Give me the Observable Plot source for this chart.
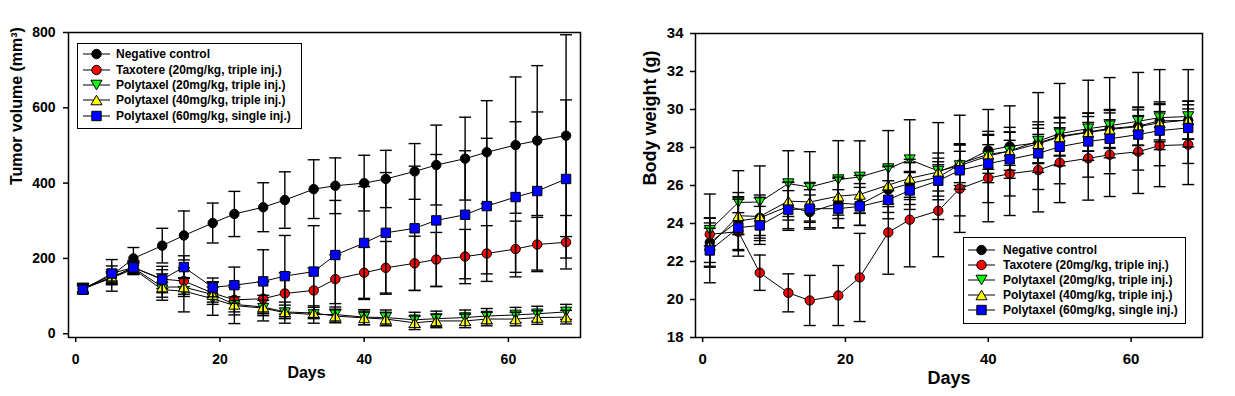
<!DOCTYPE html>
<html><head><meta charset="utf-8">
<script src="https://cdn.jsdelivr.net/npm/d3@7"></script>
<script src="https://cdn.jsdelivr.net/npm/@observablehq/plot@0.6"></script>
<style>
body{margin:0;background:#fff;}
#wrap{position:relative;width:1235px;height:396px;display:flex;background:#fff;overflow:hidden;}
.legend{position:absolute;border:1px solid #000;background:#fff;box-sizing:border-box;font:bold 12px "Liberation Sans",Arial,sans-serif;color:#000;}
.legend .row{position:absolute;height:14px;display:flex;align-items:center;white-space:nowrap;line-height:14px;}
.legend svg{display:block;overflow:visible;}
</style></head><body><div id="wrap"></div>
<script>
// ---------- data ----------
const days = [1,5,8,12,15,19,22,26,29,33,36,40,43,47,50,54,57,61,64,68];
const seriesNames = ["Negative control","Taxotere (20mg/kg, triple inj.)","Polytaxel (20mg/kg, triple inj.)","Polytaxel (40mg/kg, triple inj.)","Polytaxel (60mg/kg, single inj.)"];

// Tumor volume (mm3)
const tvControl    = [120,155,200,234,261,294,318,336,355,384,393,400,411,431,448,465,482,501,513,526];
const tvControlErr = [14,42,29,46,65,53,60,65,75,78,74,74,76,74,106,110,137,181,199,268];
const tvTaxotere    = [118,150,176,145,140,108,90,93,107,115,145,162,175,187,197,205,213,225,237,243];
const tvTaxotereErr = [10,20,18,25,35,30,40,45,55,60,65,68,70,72,72,72,74,74,72,71];
const tvPoly20    = [120,148,172,117,113,93,75,68,56,51,51,44,43,37,40,43,47,50,53,58];
const tvPoly20Err = [10,15,15,20,55,44,48,34,28,23,20,20,20,20,20,20,20,20,20,20];
const tvPoly40    = [121,150,175,124,124,104,78,71,58,55,47,42,39,29,34,34,39,39,43,44];
const tvPoly40Err = [10,15,15,35,25,20,20,18,18,15,18,18,18,18,18,18,18,18,18,18];
const tvPoly60    = [117,160,176,144,177,123,129,139,153,165,209,241,268,280,301,316,339,363,379,411];
const tvPoly60Err = [10,20,15,35,30,25,48,84,108,122,145,150,160,165,175,170,180,200,210,210];

// Body weight (g)
const bwControl    = [23.0,24.13,24.3,24.9,24.6,25.07,25.0,25.78,26.1,26.44,27.1,27.85,28.06,28.25,28.59,28.82,29.0,29.13,29.4,29.43];
const bwControlErr = [1.3,1.5,1.2,1.26,0.9,1.3,1.1,1.2,1.1,1.0,1.1,1.0,1.0,1.1,1.0,1.0,1.0,1.0,1.0,1.0];
const bwTaxotere    = [23.43,23.57,21.41,20.35,19.95,20.21,21.16,23.53,24.2,24.67,25.83,26.39,26.62,26.81,27.2,27.43,27.62,27.78,28.1,28.15];
const bwTaxotereErr = [0.6,1.0,0.93,1.0,1.32,1.58,2.32,2.2,2.48,2.42,2.3,2.3,2.2,2.2,2.1,2.2,2.2,2.2,2.16,2.1];
const bwPoly20    = [23.65,25.11,25.13,26.1,25.92,26.31,26.45,26.89,27.36,26.76,27.05,27.55,27.82,28.34,28.73,28.99,29.15,29.38,29.57,29.63];
const bwPoly20Err = [1.9,1.67,1.9,1.73,1.86,2.05,1.9,2.0,2.1,2.55,2.65,2.45,2.37,2.55,2.64,2.55,2.53,2.57,2.53,2.47];
const bwPoly40    = [22.85,24.41,24.37,25.18,25.13,25.44,25.53,26.02,26.38,26.71,27.15,27.64,27.8,28.2,28.55,28.8,28.95,29.1,29.3,29.45];
const bwPoly40Err = [0.9,1.0,1.0,1.0,1.0,1.0,1.0,1.0,1.0,1.0,1.0,1.0,1.0,1.0,1.0,1.0,1.0,1.0,1.0,1.0];
const bwPoly60    = [22.58,23.78,23.9,24.73,24.78,24.78,24.9,25.25,25.74,26.25,26.8,27.15,27.38,27.69,28.04,28.32,28.46,28.68,28.89,29.03];
const bwPoly60Err = [1.7,1.5,1.0,1.0,1.0,1.0,1.0,1.0,1.0,1.0,1.0,1.0,1.0,1.0,1.0,1.0,1.0,1.0,1.0,1.0];

const xTicks = [0,20,40,60];
const tvTicks = [0,200,400,600,800];
const bwTicks = [18,20,22,24,26,28,30,32,34];

// ---------- styles ----------
const FONT = '"Liberation Sans", Arial, sans-serif';
const colors = ["#000000","#ff0000","#00ff00","#ffff00","#0000ff"];
const triUp = {draw(ctx, size){const s=Math.sqrt(4*size/Math.sqrt(3)), h=s*Math.sqrt(3)/2; ctx.moveTo(0,-h/2); ctx.lineTo(s/2,h/2); ctx.lineTo(-s/2,h/2); ctx.closePath();}};
const triDown = {draw(ctx, size){const s=Math.sqrt(4*size/Math.sqrt(3)), h=s*Math.sqrt(3)/2; ctx.moveTo(0,h/2); ctx.lineTo(s/2,-h/2); ctx.lineTo(-s/2,-h/2); ctx.closePath();}};
const capSym = {draw(ctx){ctx.moveTo(-6,0); ctx.lineTo(6,0);}};
const symbols = ["circle","circle",triDown,triUp,"square"];
const radii = [4.7,4.7,4.1,4.1,5.3];

function tidy(vals, errs, k){ return days.map((d,j)=>({day:d, v:vals[j], e:errs[j], k})); }

function chart(o){
  const sets = o.values.map((v,k)=>tidy(v, o.errors[k], k));
  const bars = s => [
    Plot.ruleX(s,{x:"day", y1:d=>d.v-d.e, y2:d=>d.v+d.e, stroke:"black", strokeWidth:1.4}),
    Plot.dot(s,{x:"day", y:d=>d.v+d.e, symbol:capSym, r:3, fill:"none", stroke:"black", strokeWidth:1.4}),
    Plot.dot(s,{x:"day", y:d=>d.v-d.e, symbol:capSym, r:3, fill:"none", stroke:"black", strokeWidth:1.4})
  ];
  const dots = (s,k) => Plot.dot(s,{x:"day", y:"v", symbol:symbols[k], r:radii[k], fill:colors[k], stroke:"black", strokeWidth:1});
  const marks = [
    Plot.frame({stroke:"black", strokeWidth:1.5}),
    Plot.axisX({ticks:xTicks, tickSize:5, tickPadding:o.xPad, fontSize:o.tickFont, fontWeight:"bold", strokeWidth:1.5, label:null}),
    Plot.axisY({ticks:o.yTicks, tickSize:5, tickPadding:o.yPad, fontSize:o.tickFont, fontWeight:"bold", strokeWidth:1.5, label:null})
  ];
  sets.forEach(s=>marks.push(Plot.line(s,{x:"day", y:"v", stroke:"black", strokeWidth:1})));
  for (let k=0;k<4;k++){ marks.push(dots(sets[k],k), ...bars(sets[k])); }
  marks.push(...bars(sets[4]), dots(sets[4],4));
  marks.push(Plot.text([o.yTitle],{text:d=>d, frameAnchor:"left", rotate:-90, dx:o.yTitleDx, fontSize:o.titleFont, fontWeight:"bold", fill:"black"}));
  marks.push(Plot.text(["Days"],{text:d=>d, frameAnchor:"bottom", dx:o.xTitleDx, dy:o.xTitleDy, fontSize:o.titleFont, fontWeight:"bold", fill:"black"}));
  return Plot.plot({
    width:o.width, height:396,
    marginLeft:o.ml, marginRight:o.mr, marginTop:o.mt, marginBottom:o.mb,
    x:{domain:[-1,70]}, y:{domain:o.yDomain},
    style:{fontFamily:FONT, color:"black", background:"white", overflow:"visible"},
    marks
  });
}

const wrap = document.getElementById("wrap");
wrap.appendChild(chart({
  width:620, ml:68, mr:40, mt:32, mb:59, yDomain:[-10,800], yTicks:tvTicks,
  values:[tvControl,tvTaxotere,tvPoly20,tvPoly40,tvPoly60],
  errors:[tvControlErr,tvTaxotereErr,tvPoly20Err,tvPoly40Err,tvPoly60Err],
  tickFont:14, titleFont:16, xPad:12, yPad:8,
  yTitle:"Tumor volume (mm³)", yTitleDx:-52, xTitleDx:-18, xTitleDy:40
}));
wrap.appendChild(chart({
  width:615, ml:75, mr:33, mt:33, mb:59, yDomain:[18,34], yTicks:bwTicks,
  values:[bwControl,bwTaxotere,bwPoly20,bwPoly40,bwPoly60],
  errors:[bwControlErr,bwTaxotereErr,bwPoly20Err,bwPoly40Err,bwPoly60Err],
  tickFont:15, titleFont:18, xPad:11, yPad:7,
  yTitle:"Body weight (g)", yTitleDx:-45, xTitleDx:0, xTitleDy:46
}));

// ---------- legends ----------
function legend(box){
  const div = document.createElement("div");
  div.className = "legend";
  Object.assign(div.style,{left:box.left+"px", top:box.top+"px", width:box.width+"px", height:box.height+"px"});
  seriesNames.forEach((name,k)=>{
    const row = document.createElement("div");
    row.className = "row";
    row.style.left = box.pad+"px";
    row.style.top = (box.first + k*box.step)+"px";
    const svg = d3.create("svg").attr("width",27).attr("height",14);
    svg.append("line").attr("x1",0).attr("x2",27).attr("y1",7).attr("y2",7).attr("stroke","black").attr("stroke-width",1);
    const sym = symbols[k];
    const symObj = typeof sym === "string" ? (sym==="circle"?d3.symbolCircle:d3.symbolSquare) : sym;
    svg.append("path").attr("transform","translate(13.5,7)")
      .attr("d", d3.symbol(symObj, Math.PI*radii[k]*radii[k])())
      .attr("fill",colors[k]).attr("stroke","black").attr("stroke-width",1);
    row.appendChild(svg.node());
    const t = document.createElement("span");
    t.textContent = name;
    t.style.marginLeft = box.gap+"px";
    row.appendChild(t);
    div.appendChild(row);
  });
  wrap.appendChild(div);
}
legend({left:77, top:43, width:225, height:86, pad:5, gap:6, first:3.3, step:15.35});
legend({left:963, top:237, width:223, height:87, pad:4, gap:8, first:5, step:14.9});
</script>
</body></html>
